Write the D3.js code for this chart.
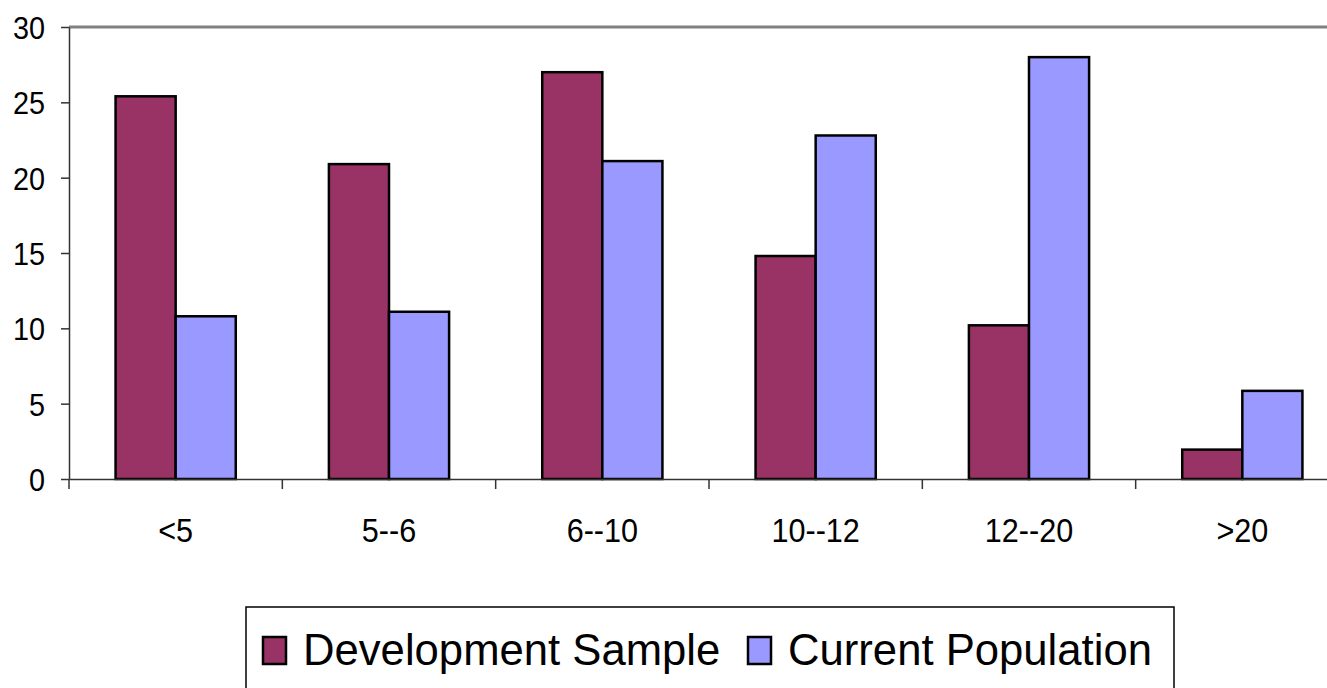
<!DOCTYPE html>
<html>
<head>
<meta charset="utf-8">
<script src="https://cdn.jsdelivr.net/npm/d3@7"></script>
<style>
  body { margin: 0; background: #fff; }
  text { font-family: "Liberation Sans", Arial, sans-serif; fill: #000; }
</style>
</head>
<body>
<div id="chart"></div>
<script>
// data
const categories = ["<5", "5--6", "6--10", "10--12", "12--20", ">20"];
const seriesNames = ["Development Sample", "Current Population"];
const devValues = [25.4, 20.9, 27.0, 14.8, 10.2, 1.95];
const curValues = [10.8, 11.1, 21.1, 22.8, 28.0, 5.85];
const yTicks = [0, 5, 10, 15, 20, 25, 30];
const colors = ["#993366", "#9999ff"];

const width = 1327, height = 688;
const plot = {left: 69, top: 27, right: 1349, bottom: 479};

const svg = d3.select("#chart").append("svg")
    .attr("width", width).attr("height", height);

const x = d3.scaleBand().domain(categories).range([plot.left, plot.right]);
const y = d3.scaleLinear().domain([0, 30]).range([plot.bottom, plot.top]);
// excel-like gap between groups, bars about 60px wide
const barW = x.bandwidth() / 3.55;
const xSub = d3.scaleBand().domain([0, 1])
    .range([x.bandwidth() / 2 - barW, x.bandwidth() / 2 + barW]);

// plot area border (gray top)
svg.append("line")
    .attr("x1", plot.left).attr("x2", width)
    .attr("y1", plot.top).attr("y2", plot.top)
    .attr("stroke", "#808080").attr("stroke-width", 3);

// bars
const rows = categories.map((c, i) => ({cat: c, vals: [devValues[i], curValues[i]]}));
const groups = svg.append("g").selectAll("g").data(rows).join("g")
    .attr("transform", d => "translate(" + x(d.cat) + ",0)");
groups.selectAll("rect").data(d => d.vals).join("rect")
    .attr("x", (d, i) => xSub(i))
    .attr("y", d => y(d))
    .attr("width", xSub.bandwidth())
    .attr("height", d => y(0) - y(d))
    .attr("fill", (d, i) => colors[i])
    .attr("stroke", "#000").attr("stroke-width", 2.5);

// y axis
const yAxis = svg.append("g")
    .attr("transform", "translate(" + plot.left + ",0)")
    .call(d3.axisLeft(y).tickValues(yTicks).tickSize(8).tickPadding(0).tickSizeOuter(0));
yAxis.select(".domain").attr("stroke", "#333").attr("stroke-width", 1.5);
yAxis.selectAll(".tick line").attr("stroke", "#333").attr("stroke-width", 1.5);
yAxis.selectAll(".tick text")
    .attr("x", 0).attr("dy", null)
    .attr("dominant-baseline", "central")
    .attr("text-anchor", "end")
    .attr("transform", "translate(-24,0) scale(0.9,1)")
    .style("font-size", "32px");

// x axis
const xAxis = svg.append("g")
    .attr("transform", "translate(0," + plot.bottom + ")")
    .call(d3.axisBottom(x).tickSize(0).tickSizeOuter(0));
xAxis.select(".domain").attr("stroke", "#333").attr("stroke-width", 1.5);
xAxis.selectAll(".tick text")
    .attr("y", 0).attr("dy", null)
    .attr("transform", "translate(0,63) scale(0.9,1)")
    .style("font-size", "34px");
// boundary ticks between categories
svg.append("g").selectAll("line")
    .data(categories)
    .join("line")
    .attr("x1", d => x(d)).attr("x2", d => x(d))
    .attr("y1", plot.bottom).attr("y2", plot.bottom + 10)
    .attr("stroke", "#333").attr("stroke-width", 1.5);

// legend
const legend = svg.append("g");
legend.append("rect")
    .attr("x", 246).attr("y", 607).attr("width", 928).attr("height", 100)
    .attr("fill", "#fff").attr("stroke", "#000").attr("stroke-width", 1.5);
const legendX = [263, 748];
const items = legend.selectAll("g.item").data(seriesNames).join("g")
    .attr("class", "item")
    .attr("transform", (d, i) => "translate(" + legendX[i] + ",637)");
items.append("rect")
    .attr("width", 23).attr("height", 27)
    .attr("fill", (d, i) => colors[i])
    .attr("stroke", "#000").attr("stroke-width", 2.5);
items.append("text")
    .attr("transform", "translate(40,28) scale(0.97,1)")
    .style("font-size", "45px")
    .text(d => d);
</script>
</body>
</html>
